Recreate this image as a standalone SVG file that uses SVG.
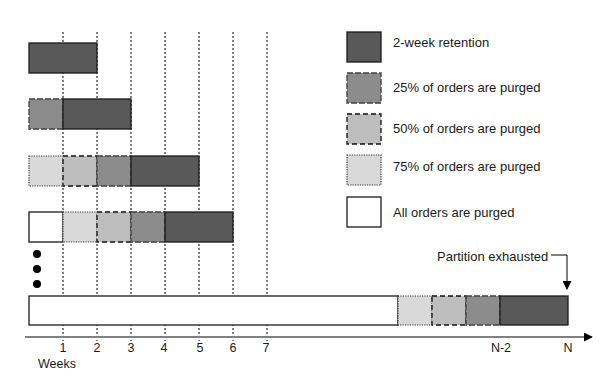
<svg xmlns="http://www.w3.org/2000/svg" width="616" height="384" viewBox="0 0 616 384">
<style>
text{font-family:"Liberation Sans",Arial,sans-serif;fill:#1a1a1a}
.lbl{font-size:13px}
.tick{font-size:12.5px;text-anchor:middle}
.grid{stroke:#000;stroke-width:1;stroke-dasharray:2,2;fill:none}
.ret{fill:#595959;stroke:#1a1a1a;stroke-width:1.3}
.p25{fill:#8c8c8c;stroke:#404040;stroke-width:1.3;stroke-dasharray:6,2}
.p50{fill:#bdbdbd;stroke:#111;stroke-width:1.3;stroke-dasharray:5,3}
.p75{fill:#d9d9d9;stroke:#333;stroke-width:1.2;stroke-dasharray:1.2,1.2}
.p100{fill:#fff;stroke:#1a1a1a;stroke-width:1.3}
</style>
<defs>
<marker id="ah2" viewBox="0 0 10 10" refX="9" refY="5" markerWidth="9" markerHeight="9" orient="auto" markerUnits="userSpaceOnUse">
<path d="M0,0 L10,5 L0,10 z" fill="#000"/>
</marker>
</defs>
<g id="grid">
<line class="grid" x1="63" y1="32" x2="63" y2="341"/>
<line class="grid" x1="97" y1="32" x2="97" y2="341"/>
<line class="grid" x1="131" y1="32" x2="131" y2="341"/>
<line class="grid" x1="165" y1="32" x2="165" y2="341"/>
<line class="grid" x1="199" y1="32" x2="199" y2="341"/>
<line class="grid" x1="233" y1="32" x2="233" y2="341"/>
<line class="grid" x1="267" y1="32" x2="267" y2="341"/>
</g>
<g id="row1">
<rect class="ret" x="29" y="43" width="68" height="30"/>
</g>
<g id="row2">
<rect class="p25" x="29" y="99" width="34" height="30"/>
<rect class="ret" x="63" y="99" width="68" height="30"/>
</g>
<g id="row3">
<rect class="p75" x="29" y="156" width="34" height="30"/>
<rect class="p50" x="63" y="156" width="34" height="30"/>
<rect class="p25" x="97" y="156" width="34" height="30"/>
<rect class="ret" x="131" y="156" width="68" height="30"/>
</g>
<g id="row4">
<rect class="p100" x="29" y="212" width="34" height="30"/>
<rect class="p75" x="63" y="212" width="34" height="30"/>
<rect class="p50" x="97" y="212" width="34" height="30"/>
<rect class="p25" x="131" y="212" width="34" height="30"/>
<rect class="ret" x="165" y="212" width="68" height="30"/>
</g>
<g id="dots">
<circle cx="37" cy="254" r="4" fill="#000"/>
<circle cx="37" cy="269" r="4" fill="#000"/>
<circle cx="37" cy="284" r="4" fill="#000"/>
</g>
<g id="rowN">
<rect class="p100" x="29" y="296" width="369" height="29"/>
<rect class="p75" x="398" y="296" width="34" height="29"/>
<rect class="p50" x="432" y="296" width="34" height="29"/>
<rect class="p25" x="466" y="296" width="34" height="29"/>
<rect class="ret" x="500" y="296" width="68" height="29"/>
</g>
<g id="connectors">
<line x1="25" y1="337" x2="592" y2="337" stroke="#808080" stroke-width="2" marker-end="url(#ah2)"/>
<polyline points="551,255 567,255 567,289" fill="none" stroke="#000" stroke-width="1" marker-end="url(#ah2)"/>
</g>
<g id="axis-labels">
<text class="tick" x="63" y="352">1</text>
<text class="tick" x="97" y="352">2</text>
<text class="tick" x="131" y="352">3</text>
<text class="tick" x="164" y="352">4</text>
<text class="tick" x="200" y="352">5</text>
<text class="tick" x="233" y="352">6</text>
<text class="tick" x="266" y="352">7</text>
<text class="tick" x="501" y="352">N-2</text>
<text class="tick" x="568" y="352">N</text>
<text class="tick" x="57" y="368">Weeks</text>
<text class="lbl" x="437" y="261">Partition exhausted</text>
</g>
<g id="legend">
<g id="leg-ret"><rect class="ret" x="347" y="32" width="34" height="30"/><text class="lbl" x="393" y="47">2-week retention</text></g>
<g id="leg-25"><rect class="p25" x="347" y="73" width="34" height="30"/><text class="lbl" x="393" y="92">25% of orders are purged</text></g>
<g id="leg-50"><rect class="p50" x="347" y="114" width="34" height="30"/><text class="lbl" x="393" y="133">50% of orders are purged</text></g>
<g id="leg-75"><rect class="p75" x="347" y="155" width="34" height="30"/><text class="lbl" x="393" y="171">75% of orders are purged</text></g>
<g id="leg-100"><rect class="p100" x="347" y="197" width="34" height="30"/><text class="lbl" x="393" y="217">All orders are purged</text></g>
</g>
</svg>
